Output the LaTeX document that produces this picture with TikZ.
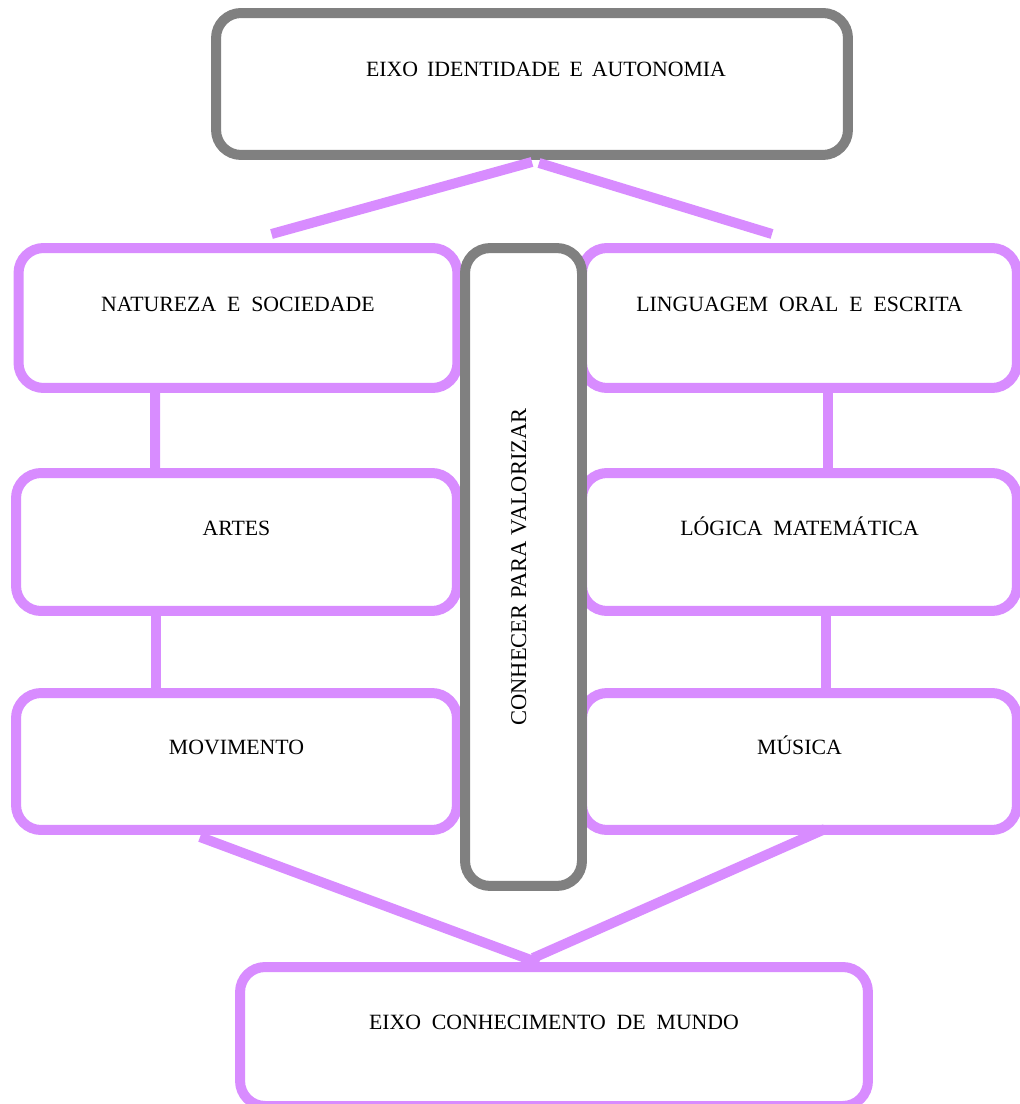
\documentclass[tikz,border=0pt]{standalone}
\usepackage{fontspec}
\setmainfont{Liberation Serif}
\usetikzlibrary{calc}
\definecolor{lilas}{RGB}{216,140,255}
\definecolor{cinza}{RGB}{128,128,128}
\tikzset{
  caixa/.style={draw=lilas, line width=0.2cm, rounded corners=0.5cm, fill=white,
    text height=0.3cm, text depth=0.58cm, font=\fontsize{12.4}{15}\selectfont},
  liga/.style={draw=lilas, line width=0.2cm}
}

\begin{document}
\begin{tikzpicture}[x=0.02cm, y=-0.02cm]
  \useasboundingbox (0,0) rectangle (1019,1104);
  \node[caixa, minimum width=8.78cm, minimum height=2.8cm] (natureza) at (238,318) {NATUREZA\ \ E\ \ SOCIEDADE};
  \node[caixa, minimum width=8.82cm, minimum height=2.76cm] (artes) at (236.5,542) {ARTES};
  \node[caixa, minimum width=8.82cm, minimum height=2.74cm] (movimento) at (236.5,761.5) {MOVIMENTO};
  \node[caixa, minimum width=8.7cm, minimum height=2.8cm] (linguagem) at (799.5,318) {LINGUAGEM\ \ ORAL\ \ E\ \ ESCRITA};
  \node[caixa, minimum width=8.7cm, minimum height=2.76cm] (logica) at (799.5,542) {LÓGICA\ \ MATEMÁTICA};
  \node[caixa, minimum width=8.7cm, minimum height=2.74cm] (musica) at (799.5,761.5) {MÚSICA};
  \node[caixa, draw=cinza, rotate=90, text depth=0.2cm, font=\fontsize{12.8}{15}\selectfont,
    minimum width=12.76cm, minimum height=2.34cm] (conhecer) at (523.5,567) {CONHECER PARA VALORIZAR};
  \node[caixa, minimum width=12.56cm, minimum height=2.78cm] (mundo) at (554,1036.5) {EIXO\ \ CONHECIMENTO\ \ DE\ \ MUNDO};
  \node[caixa, draw=cinza, minimum width=12.64cm, minimum height=2.84cm] (topo) at (532,84)
    {\hspace*{0.56cm}EIXO\hspace{0.42em}IDENTIDADE\hspace{0.42em}E\hspace{0.42em}AUTONOMIA};

  \draw[liga] ($(topo.south)+(0,2)$) -- ($(natureza.north)+(33.5,-9)$);
  \draw[liga] ($(topo.south)+(7,3)$) -- ($(linguagem.north)+(-27.5,-9)$);
  \draw[liga] ([xshift=-1.66cm]natureza.south) -- ([xshift=-1.63cm]artes.north);
  \draw[liga] ([xshift=-1.61cm]artes.south) -- ([xshift=-1.61cm]movimento.north);
  \draw[liga] ([xshift=0.56cm]linguagem.south) -- ([xshift=0.56cm]logica.north);
  \draw[liga] ([xshift=0.52cm]logica.south) -- ([xshift=0.52cm]musica.north);
  \draw[liga] ($(movimento.south)+(-36.5,2)$) -- ($(mundo.north)+(-15,1)$);
  \draw[liga] ($(musica.south)+(25.5,-6)$) -- ($(mundo.north)+(-21,-4)$);
\end{tikzpicture}
\end{document}
